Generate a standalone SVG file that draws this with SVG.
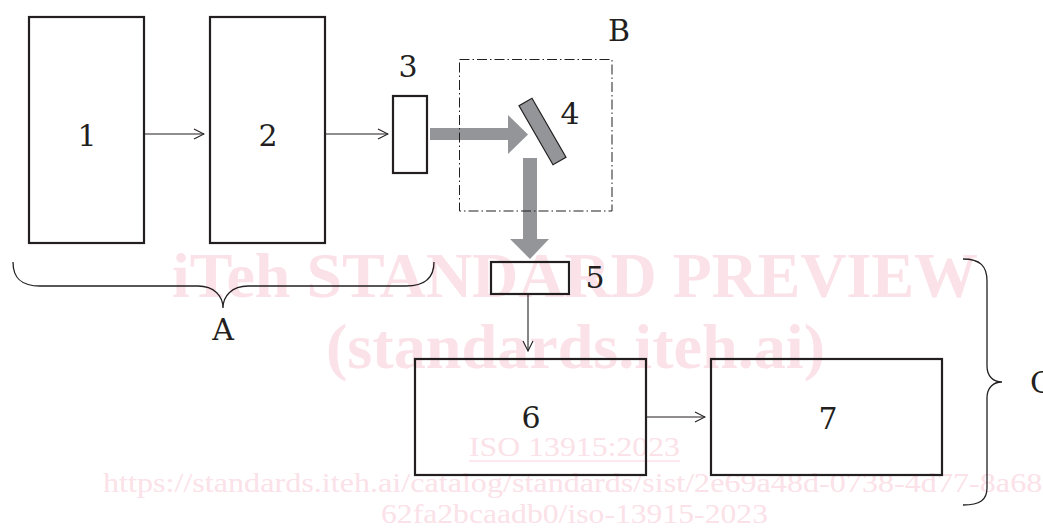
<svg xmlns="http://www.w3.org/2000/svg" width="1043" height="529" viewBox="0 0 1043 529">
  <style>
    .box { fill: none; stroke: #231f20; stroke-width: 2.2; }
    .lbl { font-family: "DejaVu Serif", "Liberation Serif", serif; font-size: 30px; fill: #231f20; }
    .wire { fill: none; stroke: #231f20; stroke-width: 1.1; }
    .brace { fill: none; stroke: #231f20; stroke-width: 1.3; }
    .beam { fill: #939598; stroke: none; }
    .wm { font-family: "Liberation Serif", serif; fill: #fbe1e8; }
  </style>
  <defs>
    <marker id="open" viewBox="0 0 12 12" refX="11" refY="6" markerWidth="12" markerHeight="12" markerUnits="userSpaceOnUse" orient="auto">
      <path d="M1,1 L11,6 L1,11" fill="none" stroke="#231f20" stroke-width="1.1"/>
    </marker>
  </defs>

  <rect width="1043" height="529" fill="#ffffff"/>

  <!-- background watermark -->
  <g id="watermark">
    <text class="wm" x="172" y="297" font-size="64" font-weight="bold" textLength="806" lengthAdjust="spacingAndGlyphs">iTeh STANDARD PREVIEW</text>
    <text class="wm" x="326" y="368" font-size="64" font-weight="bold" textLength="499" lengthAdjust="spacingAndGlyphs">(standards.iteh.ai)</text>
    <text class="wm" x="469" y="456" font-size="28" textLength="211" lengthAdjust="spacingAndGlyphs">ISO 13915:2023</text>
    <line x1="469" y1="461" x2="680" y2="461" stroke="#fbe1e8" stroke-width="1.5"/>
    <text class="wm" x="103" y="492" font-size="27" textLength="950" lengthAdjust="spacingAndGlyphs">https://standards.iteh.ai/catalog/standards/sist/2e69a48d-0738-4d77-8a68-</text>
    <text class="wm" x="381" y="523" font-size="27" textLength="387" lengthAdjust="spacingAndGlyphs">62fa2bcaadb0/iso-13915-2023</text>
  </g>

  <!-- connectors -->
  <g id="connectors">
    <line class="wire" x1="144" y1="134" x2="204" y2="134" marker-end="url(#open)"/>
    <line class="wire" x1="325" y1="134" x2="388" y2="134" marker-end="url(#open)"/>
    <line class="wire" x1="528" y1="294" x2="528" y2="351" marker-end="url(#open)"/>
    <line class="wire" x1="646" y1="417" x2="705" y2="417" marker-end="url(#open)"/>
    <!-- light beam from 3 to mirror 4, and reflected beam to 5 -->
    <polygon class="beam" points="430,128 508,128 508,115 528,134.5 508,154 508,140 430,140"/>
    <polygon class="beam" points="523,158 537,158 537,239 549,239 530,259 510,239 523,239"/>
  </g>

  <g id="node1">
    <rect class="box" x="29" y="17" width="115" height="226"/>
    <text class="lbl" x="87" y="146" text-anchor="middle">1</text>
  </g>
  <g id="node2">
    <rect class="box" x="210" y="17" width="115" height="226"/>
    <text class="lbl" x="268" y="146" text-anchor="middle">2</text>
  </g>
  <g id="node3">
    <rect class="box" x="393" y="96" width="34" height="77"/>
    <text class="lbl" x="408" y="77" text-anchor="middle">3</text>
  </g>
  <g id="groupB">
    <rect x="459.5" y="59.5" width="152.5" height="151.5" fill="none" stroke="#231f20" stroke-width="1" stroke-dasharray="10,3,1.5,3"/>
    <text class="lbl" x="619" y="41" text-anchor="middle">B</text>
  </g>
  <g id="node4">
    <rect x="535" y="97.5" width="15" height="68" fill="#939598" stroke="#231f20" stroke-width="1.2" transform="rotate(-30 542.5 131.5)"/>
    <text class="lbl" x="570" y="124" text-anchor="middle">4</text>
  </g>
  <g id="node5">
    <rect class="box" x="491" y="262" width="78" height="32"/>
    <text class="lbl" x="595" y="288" text-anchor="middle">5</text>
  </g>
  <g id="node6">
    <rect class="box" x="415" y="359" width="231" height="116"/>
    <text class="lbl" x="531" y="428" text-anchor="middle">6</text>
  </g>
  <g id="node7">
    <rect class="box" x="711" y="359" width="231" height="116"/>
    <text class="lbl" x="828" y="429" text-anchor="middle">7</text>
  </g>
  <g id="braceA">
    <path class="brace" d="M13,262 C13,279 22,286 40,286 L198,286 C214,286 223,296 223,308 C223,296 232,286 248,286 L406,286 C424,286 434,279 434,262"/>
    <text class="lbl" x="223" y="340" text-anchor="middle">A</text>
  </g>
  <g id="braceC">
    <path class="brace" d="M963,259 C980,259 987,266 987,281 L987,366 C987,376 993,382 1002,382 C993,382 987,388 987,398 L987,488 C987,500 980,505 963,505"/>
    <text class="lbl" x="1030" y="393">C</text>
  </g>
</svg>
